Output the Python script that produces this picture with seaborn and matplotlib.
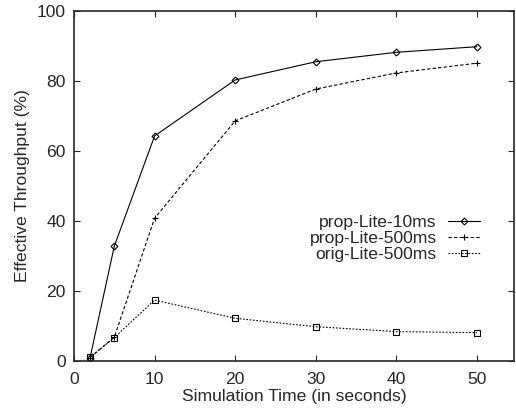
import matplotlib
matplotlib.use("Agg")
import matplotlib.pyplot as plt
import seaborn as sns
import pandas as pd

time_s = [2, 5, 10, 20, 30, 40, 50]
prop_10ms = [1.0, 32.8, 64.3, 80.3, 85.5, 88.2, 89.8]
prop_500ms = [1.0, 6.8, 40.8, 68.6, 77.7, 82.3, 85.1]
orig_500ms = [1.1, 6.7, 17.4, 12.2, 9.8, 8.4, 8.1]
series_names = ["prop-Lite-10ms", "prop-Lite-500ms", "orig-Lite-500ms"]

sns.set_style("ticks")
plt.rcParams['font.family'] = ['Liberation Sans', 'DejaVu Sans']

FS = 12.6
fig = plt.figure(figsize=(5.16, 4.08), dpi=100)
ax = fig.add_axes([74/516, (408-361)/408, (514-74)/516, (361-11)/408])

styles = [
    dict(marker='D', linestyle='-', markersize=3.5),
    dict(marker='+', linestyle=(0, (3, 2)), markersize=5),
    dict(marker='s', linestyle=(0, (1.5, 1.5)), markersize=4.5),
]
for name, vals, st in zip(series_names, [prop_10ms, prop_500ms, orig_500ms], styles):
    df = pd.DataFrame({"t": time_s, "v": vals})
    sns.lineplot(data=df, x="t", y="v", ax=ax, color='black', linewidth=0.8,
                 marker=st['marker'], linestyle=st['linestyle'],
                 markersize=st['markersize'], markerfacecolor='none',
                 markeredgecolor='black', markeredgewidth=0.8, label=name)

ax.set_xlim(0, 54.6)
ax.set_ylim(0, 100)
ax.set_xticks([0, 10, 20, 30, 40, 50])
ax.set_yticks([0, 20, 40, 60, 80, 100])
ax.tick_params(direction='in', top=True, right=True, labelsize=FS, length=4, width=0.8)
ax.tick_params(axis='x', pad=8)
ax.tick_params(axis='y', pad=6)
for s in ax.spines.values():
    s.set_linewidth(1.2)
    s.set_visible(True)
ax.set_xlabel("Simulation Time (in seconds)", fontsize=FS, labelpad=1)
ax.set_ylabel("Effective Throughput (%)", fontsize=FS, labelpad=5)

leg = ax.legend(loc='upper right', bbox_to_anchor=(0.923, 0.418), frameon=False,
                markerfirst=False, fontsize=FS, handlelength=1.85,
                labelspacing=0.05, handletextpad=0.63, borderaxespad=0, borderpad=0)
for t in leg.get_texts():
    t.set_ha('right')
leg._legend_box.align = 'right'

fig.savefig("out.png", dpi=100)
